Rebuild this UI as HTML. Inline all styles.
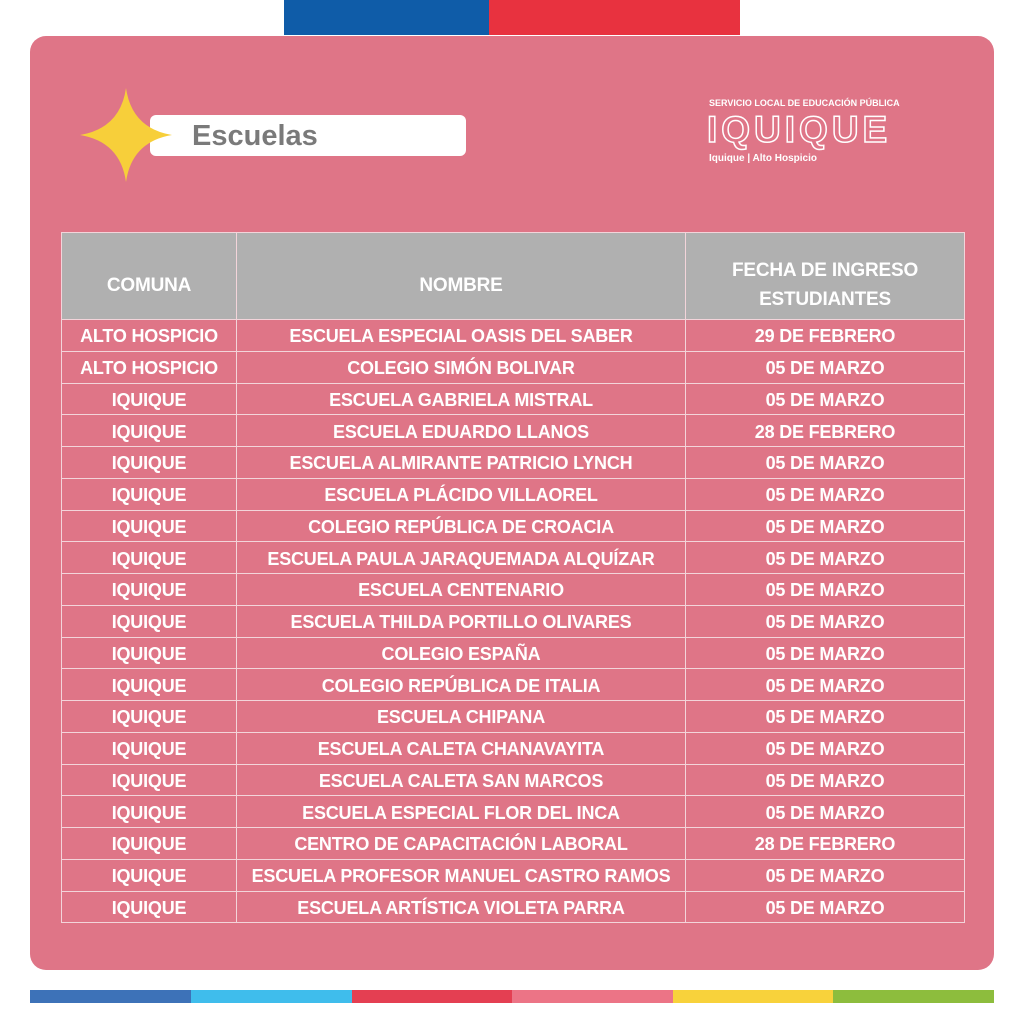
<!DOCTYPE html>
<html><head><meta charset="utf-8"><style>
body{margin:0;width:1024px;height:1024px;background:#fff;position:relative;overflow:hidden;font-family:"Liberation Sans",sans-serif}
.a{position:absolute}
table{position:absolute;left:61px;top:232px;border-collapse:collapse;table-layout:fixed;width:903px}
td{border:1px solid #f3d4da;color:#fff;font-weight:bold;font-size:18px;text-align:center;height:31.75px;padding:3px 0 0 0;box-sizing:border-box;letter-spacing:-0.2px;white-space:nowrap;overflow:hidden}
tr.h td{background:#b0b0b0;height:87px;font-size:19px;line-height:29px;padding-top:18px}
</style></head><body>
<div class="a" style="left:284px;top:0;width:205px;height:35px;background:#0f5ca8"></div>
<div class="a" style="left:489px;top:0;width:251px;height:35px;background:#e8323f"></div>
<div class="a" style="left:30px;top:36px;width:964px;height:934px;background:#df7587;border-radius:16px"></div>
<div class="a" style="left:150px;top:115px;width:316px;height:41px;background:#fff;border-radius:6px"></div>
<div class="a" style="left:192px;top:117px;font-size:29px;font-weight:bold;color:#7a7a7a;line-height:38px">Escuelas</div>
<svg class="a" style="left:80px;top:88px" width="92" height="94" viewBox="0 0 96 98"><path d="M48 0 Q54 42 96 49 Q54 56 48 98 Q42 56 0 49 Q42 42 48 0Z" fill="#f7cf3a"/></svg>
<div class="a" style="left:709px;top:98px;font-size:9px;font-weight:bold;color:#fff">SERVICIO LOCAL DE EDUCACIÓN PÚBLICA</div>
<div class="a" style="left:707px;top:110px;font-size:37px;font-weight:bold;color:#df7587;-webkit-text-stroke:1.5px #fff;letter-spacing:4px;line-height:40px">IQUIQUE</div>
<div class="a" style="left:709px;top:153px;font-size:10px;font-weight:bold;color:#fff">Iquique | Alto Hospicio</div>
<table>
<colgroup><col style="width:175px"><col style="width:449px"><col style="width:279px"></colgroup>
<tr class="h"><td>COMUNA</td><td>NOMBRE</td><td>FECHA DE INGRESO<br>ESTUDIANTES</td></tr>
<tr><td>ALTO HOSPICIO</td><td>ESCUELA ESPECIAL OASIS DEL SABER</td><td>29 DE FEBRERO</td></tr>
<tr><td>ALTO HOSPICIO</td><td>COLEGIO SIMÓN BOLIVAR</td><td>05 DE MARZO</td></tr>
<tr><td>IQUIQUE</td><td>ESCUELA GABRIELA MISTRAL</td><td>05 DE MARZO</td></tr>
<tr><td>IQUIQUE</td><td>ESCUELA EDUARDO LLANOS</td><td>28 DE FEBRERO</td></tr>
<tr><td>IQUIQUE</td><td>ESCUELA ALMIRANTE PATRICIO LYNCH</td><td>05 DE MARZO</td></tr>
<tr><td>IQUIQUE</td><td>ESCUELA PLÁCIDO VILLAOREL</td><td>05 DE MARZO</td></tr>
<tr><td>IQUIQUE</td><td>COLEGIO REPÚBLICA DE CROACIA</td><td>05 DE MARZO</td></tr>
<tr><td>IQUIQUE</td><td>ESCUELA PAULA JARAQUEMADA ALQUÍZAR</td><td>05 DE MARZO</td></tr>
<tr><td>IQUIQUE</td><td>ESCUELA CENTENARIO</td><td>05 DE MARZO</td></tr>
<tr><td>IQUIQUE</td><td>ESCUELA THILDA PORTILLO OLIVARES</td><td>05 DE MARZO</td></tr>
<tr><td>IQUIQUE</td><td>COLEGIO ESPAÑA</td><td>05 DE MARZO</td></tr>
<tr><td>IQUIQUE</td><td>COLEGIO REPÚBLICA DE ITALIA</td><td>05 DE MARZO</td></tr>
<tr><td>IQUIQUE</td><td>ESCUELA CHIPANA</td><td>05 DE MARZO</td></tr>
<tr><td>IQUIQUE</td><td>ESCUELA CALETA CHANAVAYITA</td><td>05 DE MARZO</td></tr>
<tr><td>IQUIQUE</td><td>ESCUELA CALETA SAN MARCOS</td><td>05 DE MARZO</td></tr>
<tr><td>IQUIQUE</td><td>ESCUELA ESPECIAL FLOR DEL INCA</td><td>05 DE MARZO</td></tr>
<tr><td>IQUIQUE</td><td>CENTRO DE CAPACITACIÓN LABORAL</td><td>28 DE FEBRERO</td></tr>
<tr><td>IQUIQUE</td><td>ESCUELA PROFESOR MANUEL CASTRO RAMOS</td><td>05 DE MARZO</td></tr>
<tr><td>IQUIQUE</td><td>ESCUELA ARTÍSTICA VIOLETA PARRA</td><td>05 DE MARZO</td></tr>
</table>
<div class="a" style="left:30px;top:990px;width:161px;height:13px;background:#3d72b8"></div>
<div class="a" style="left:191px;top:990px;width:161px;height:13px;background:#3fbdec"></div>
<div class="a" style="left:352px;top:990px;width:160px;height:13px;background:#e43f52"></div>
<div class="a" style="left:512px;top:990px;width:161px;height:13px;background:#ec7486"></div>
<div class="a" style="left:673px;top:990px;width:160px;height:13px;background:#f8d23b"></div>
<div class="a" style="left:833px;top:990px;width:161px;height:13px;background:#8dbd3d"></div>
</body></html>
